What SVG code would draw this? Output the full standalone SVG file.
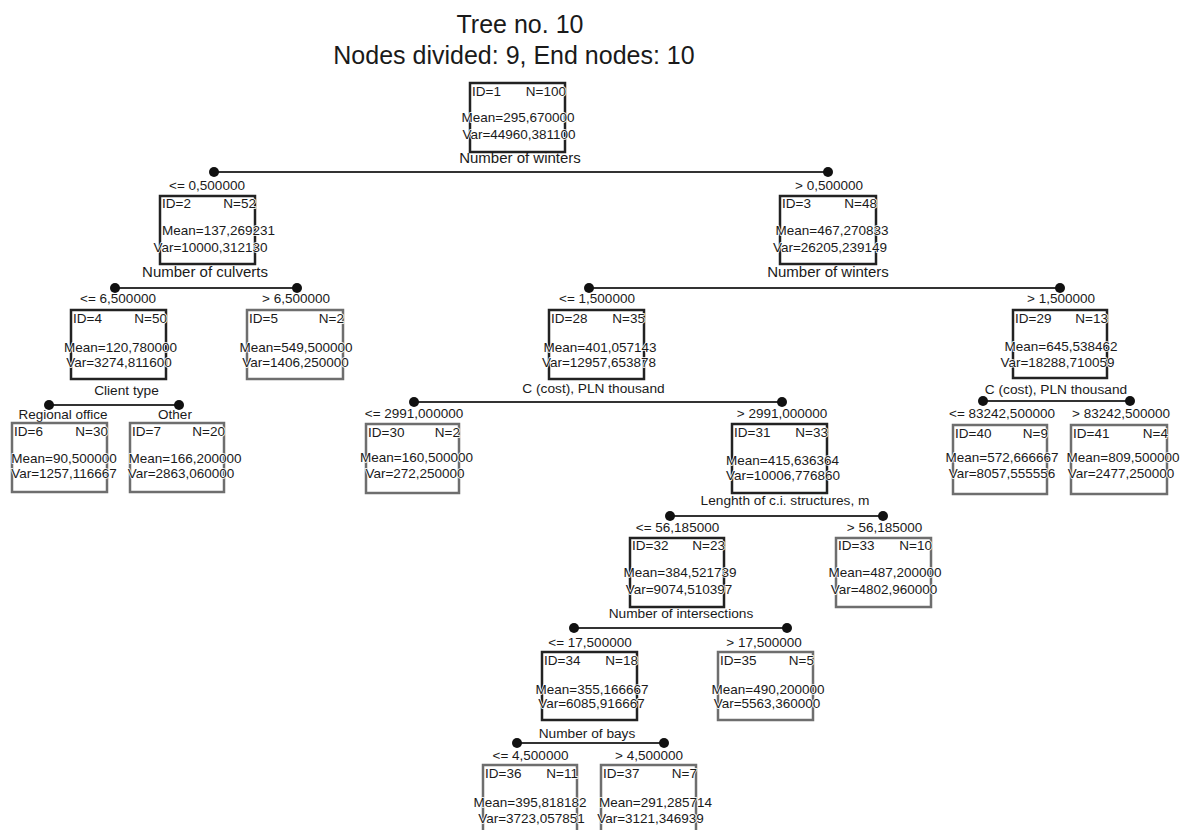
<svg xmlns="http://www.w3.org/2000/svg" width="1181" height="830" viewBox="0 0 1181 830">
<style>
text{font-family:"Liberation Sans",Arial,sans-serif;fill:#1a1a1a}
.title{font-size:25px;text-anchor:middle}
.nt{font-size:13.5px;paint-order:stroke;stroke:#fff;stroke-width:1.5px}
.c{text-anchor:middle}
.e{text-anchor:end}
.cond{font-size:13.5px;text-anchor:middle}
.lab{font-size:15px;text-anchor:middle}
.lab2{font-size:13.7px;text-anchor:middle}
.box{fill:none;stroke:#222;stroke-width:2.5}
.term{fill:none;stroke:#6e6e6e;stroke-width:2.5}
.ln{stroke:#333;stroke-width:2}
.dot{fill:#111}
</style>
<rect width="1181" height="830" fill="#fff"/>
<text class="title" x="520" y="33">Tree no. 10</text>
<text class="title" x="514" y="64">Nodes divided: 9, End nodes: 10</text>

<g id="connectors">
<line class="ln" x1="214" y1="172" x2="828" y2="172"/><circle class="dot" cx="214" cy="172" r="5"/><circle class="dot" cx="828" cy="172" r="5"/>
<line class="ln" x1="115" y1="288" x2="297" y2="288"/><circle class="dot" cx="115" cy="288" r="5"/><circle class="dot" cx="297" cy="288" r="5"/>
<line class="ln" x1="589" y1="288" x2="1060" y2="288"/><circle class="dot" cx="589" cy="288" r="5"/><circle class="dot" cx="1060" cy="288" r="5"/>
<line class="ln" x1="49" y1="405" x2="179" y2="405"/><circle class="dot" cx="49" cy="405" r="5"/><circle class="dot" cx="179" cy="405" r="5"/>
<line class="ln" x1="414" y1="402" x2="782" y2="402"/><circle class="dot" cx="414" cy="402" r="5"/><circle class="dot" cx="782" cy="402" r="5"/>
<line class="ln" x1="983" y1="401" x2="1130" y2="401"/><circle class="dot" cx="983" cy="401" r="5"/><circle class="dot" cx="1130" cy="401" r="5"/>
<line class="ln" x1="670" y1="516" x2="883" y2="516"/><circle class="dot" cx="670" cy="516" r="5"/><circle class="dot" cx="883" cy="516" r="5"/>
<line class="ln" x1="574" y1="628" x2="787" y2="628"/><circle class="dot" cx="574" cy="628" r="5"/><circle class="dot" cx="787" cy="628" r="5"/>
<line class="ln" x1="517" y1="743" x2="664" y2="743"/><circle class="dot" cx="517" cy="743" r="5"/><circle class="dot" cx="664" cy="743" r="5"/>
</g>

<g id="node1">
<rect class="box" x="470" y="83" width="95" height="69"/>
<text class="nt" x="472" y="96">ID=1</text><text class="nt e" x="566" y="96">N=100</text>
<text class="nt c" x="518" y="122">Mean=295,670000</text>
<text class="nt c" x="519" y="139">Var=44960,381100</text>
<text class="lab" x="520" y="163">Number of winters</text>
</g>

<g id="node2">
<text class="cond" x="207" y="190">&lt;= 0,500000</text>
<rect class="box" x="160" y="196" width="95" height="68"/>
<text class="nt" x="162" y="208">ID=2</text><text class="nt e" x="256" y="208">N=52</text>
<text class="nt c" x="218.5" y="235">Mean=137,269231</text>
<text class="nt c" x="210.5" y="252">Var=10000,312130</text>
<text class="lab" x="205" y="277">Number of culverts</text>
</g>

<g id="node3">
<text class="cond" x="829" y="190">&gt; 0,500000</text>
<rect class="box" x="780" y="196" width="96" height="68"/>
<text class="nt" x="782" y="208">ID=3</text><text class="nt e" x="877" y="208">N=48</text>
<text class="nt c" x="832" y="235">Mean=467,270833</text>
<text class="nt c" x="830" y="252">Var=26205,239149</text>
<text class="lab" x="828" y="277">Number of winters</text>
</g>

<g id="node4">
<text class="cond" x="118" y="303">&lt;= 6,500000</text>
<rect class="box" x="71" y="310" width="95" height="69"/>
<text class="nt" x="73" y="323">ID=4</text><text class="nt e" x="167" y="323">N=50</text>
<text class="nt c" x="120.5" y="352">Mean=120,780000</text>
<text class="nt c" x="119" y="367">Var=3274,811600</text>
<text class="lab2" x="126.5" y="395">Client type</text>
</g>

<g id="node5">
<text class="cond" x="296" y="303">&gt; 6,500000</text>
<rect class="term" x="247" y="310" width="96" height="69"/>
<text class="nt" x="249" y="323">ID=5</text><text class="nt e" x="344" y="323">N=2</text>
<text class="nt c" x="296" y="352">Mean=549,500000</text>
<text class="nt c" x="295.5" y="367">Var=1406,250000</text>
</g>

<g id="node6">
<text class="cond" x="63" y="419">Regional office</text>
<rect class="term" x="12" y="423" width="95" height="69"/>
<text class="nt" x="14" y="436">ID=6</text><text class="nt e" x="108" y="436">N=30</text>
<text class="nt c" x="64" y="463">Mean=90,500000</text>
<text class="nt c" x="64" y="478">Var=1257,116667</text>
</g>

<g id="node7">
<text class="cond" x="175" y="419">Other</text>
<rect class="term" x="130" y="423" width="94" height="69"/>
<text class="nt" x="132" y="436">ID=7</text><text class="nt e" x="225" y="436">N=20</text>
<text class="nt c" x="185" y="463">Mean=166,200000</text>
<text class="nt c" x="181" y="478">Var=2863,060000</text>
</g>

<g id="node28">
<text class="cond" x="597" y="303">&lt;= 1,500000</text>
<rect class="box" x="549" y="310" width="95" height="69"/>
<text class="nt" x="551" y="323">ID=28</text><text class="nt e" x="645" y="323">N=35</text>
<text class="nt c" x="600" y="352">Mean=401,057143</text>
<text class="nt c" x="599" y="367">Var=12957,653878</text>
<text class="lab2" x="593.5" y="393">C (cost), PLN thousand</text>
</g>

<g id="node29">
<text class="cond" x="1061" y="303">&gt; 1,500000</text>
<rect class="box" x="1013" y="310" width="94" height="68"/>
<text class="nt" x="1015" y="323">ID=29</text><text class="nt e" x="1108" y="323">N=13</text>
<text class="nt c" x="1061" y="351">Mean=645,538462</text>
<text class="nt c" x="1057.5" y="367">Var=18288,710059</text>
<text class="lab2" x="1056" y="394">C (cost), PLN thousand</text>
</g>

<g id="node30">
<text class="cond" x="414" y="418">&lt;= 2991,000000</text>
<rect class="term" x="366" y="424" width="93" height="69"/>
<text class="nt" x="368" y="437">ID=30</text><text class="nt e" x="460" y="437">N=2</text>
<text class="nt c" x="416.5" y="462">Mean=160,500000</text>
<text class="nt c" x="415" y="478">Var=272,250000</text>
</g>

<g id="node31">
<text class="cond" x="782" y="418">&gt; 2991,000000</text>
<rect class="box" x="732" y="424" width="95" height="69"/>
<text class="nt" x="734" y="437">ID=31</text><text class="nt e" x="828" y="437">N=33</text>
<text class="nt c" x="782.5" y="465">Mean=415,636364</text>
<text class="nt c" x="783" y="480">Var=10006,776860</text>
<text class="lab2" x="785" y="505">Lenghth of c.i. structures, m</text>
</g>

<g id="node40">
<text class="cond" x="1002" y="418">&lt;= 83242,500000</text>
<rect class="term" x="953" y="425" width="94" height="69"/>
<text class="nt" x="955" y="438">ID=40</text><text class="nt e" x="1048" y="438">N=9</text>
<text class="nt c" x="1002" y="462">Mean=572,666667</text>
<text class="nt c" x="1002" y="478">Var=8057,555556</text>
</g>

<g id="node41">
<text class="cond" x="1121" y="418">&gt; 83242,500000</text>
<rect class="term" x="1071" y="425" width="96" height="69"/>
<text class="nt" x="1073" y="438">ID=41</text><text class="nt e" x="1168" y="438">N=4</text>
<text class="nt c" x="1123" y="462">Mean=809,500000</text>
<text class="nt c" x="1121" y="478">Var=2477,250000</text>
</g>

<g id="node32">
<text class="cond" x="677.5" y="532">&lt;= 56,185000</text>
<rect class="box" x="630" y="538" width="94" height="69"/>
<text class="nt" x="632" y="550">ID=32</text><text class="nt e" x="725" y="550">N=23</text>
<text class="nt c" x="680" y="577">Mean=384,521739</text>
<text class="nt c" x="679" y="594">Var=9074,510397</text>
<text class="lab2" x="681" y="618">Number of intersections</text>
</g>

<g id="node33">
<text class="cond" x="884.5" y="532">&gt; 56,185000</text>
<rect class="term" x="836" y="538" width="95" height="69"/>
<text class="nt" x="838" y="550">ID=33</text><text class="nt e" x="932" y="550">N=10</text>
<text class="nt c" x="885" y="577">Mean=487,200000</text>
<text class="nt c" x="884" y="594">Var=4802,960000</text>
</g>

<g id="node34">
<text class="cond" x="590" y="647">&lt;= 17,500000</text>
<rect class="box" x="542" y="652" width="95" height="68"/>
<text class="nt" x="544" y="665">ID=34</text><text class="nt e" x="638" y="665">N=18</text>
<text class="nt c" x="592" y="694">Mean=355,166667</text>
<text class="nt c" x="591.5" y="708">Var=6085,916667</text>
<text class="lab2" x="587" y="738">Number of bays</text>
</g>

<g id="node35">
<text class="cond" x="764" y="647">&gt; 17,500000</text>
<rect class="term" x="718" y="652" width="95" height="68"/>
<text class="nt" x="720" y="665">ID=35</text><text class="nt e" x="814" y="665">N=5</text>
<text class="nt c" x="768" y="694">Mean=490,200000</text>
<text class="nt c" x="767" y="708">Var=5563,360000</text>
</g>

<g id="node36">
<text class="cond" x="530.5" y="760">&lt;= 4,500000</text>
<rect class="term" x="483" y="765" width="94" height="69"/>
<text class="nt" x="485" y="778">ID=36</text><text class="nt e" x="578" y="778">N=11</text>
<text class="nt c" x="530" y="807">Mean=395,818182</text>
<text class="nt c" x="531.5" y="823">Var=3723,057851</text>
</g>

<g id="node37">
<text class="cond" x="649" y="760">&gt; 4,500000</text>
<rect class="term" x="601" y="765" width="95" height="69"/>
<text class="nt" x="603" y="778">ID=37</text><text class="nt e" x="697" y="778">N=7</text>
<text class="nt c" x="655.5" y="807">Mean=291,285714</text>
<text class="nt c" x="650.5" y="823">Var=3121,346939</text>
</g>
</svg>
